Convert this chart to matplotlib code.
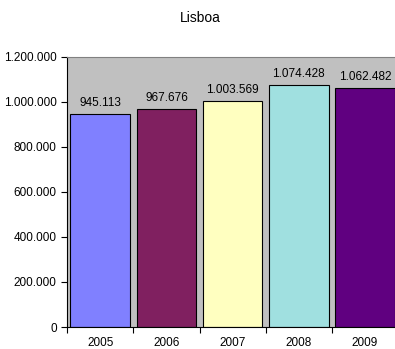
import matplotlib.pyplot as plt
from matplotlib.ticker import FixedLocator, FuncFormatter

plt.rcParams['font.family'] = ['Liberation Sans', 'DejaVu Sans']

anos = ['2005', '2006', '2007', '2008', '2009']
valores = [945113, 967676, 1003569, 1074428, 1062482]
cores = ['#8080FF', '#802060', '#FFFFC0', '#A0E0E0', '#600080']


def fmt_pt(v, pos=None):
    return f'{int(v):,}'.replace(',', '.')


fig = plt.figure(figsize=(3.95, 3.49), dpi=100)
ax = fig.add_axes([0.170, 0.063, 0.838, 0.774])
ax.set_facecolor('#C0C0C0')

x = range(len(anos))
ax.bar(x, valores, width=0.9, color=cores, edgecolor='black', linewidth=0.8, zorder=2)

for i, v in enumerate(valores):
    ax.text(i, v + 22000, fmt_pt(v), ha='center', va='bottom', fontsize=8.5)

ax.set_xlim(-0.5, len(anos) - 0.5)
ax.set_ylim(0, 1200000)
ax.set_yticks(range(0, 1200001, 200000))
ax.yaxis.set_major_formatter(FuncFormatter(fmt_pt))

ax.set_xticks(list(x))
ax.set_xticklabels(anos)
ax.xaxis.set_minor_locator(FixedLocator([i - 0.5 for i in range(len(anos) + 1)]))
ax.tick_params(axis='x', which='major', length=0, pad=7, labelsize=8.5)
ax.tick_params(axis='x', which='minor', length=4, width=0.8, direction='out')
ax.tick_params(axis='y', length=4, width=0.8, direction='out', labelsize=8.5)

for s in ['left', 'bottom']:
    ax.spines[s].set_color('black')
    ax.spines[s].set_linewidth(0.8)
ax.spines['top'].set_color('#808080')
ax.spines['top'].set_linewidth(0.8)
ax.spines['right'].set_visible(False)

fig.text(0.506, 0.948, 'Lisboa', ha='center', va='center', fontsize=10)

fig.savefig('out.png', dpi=100)
